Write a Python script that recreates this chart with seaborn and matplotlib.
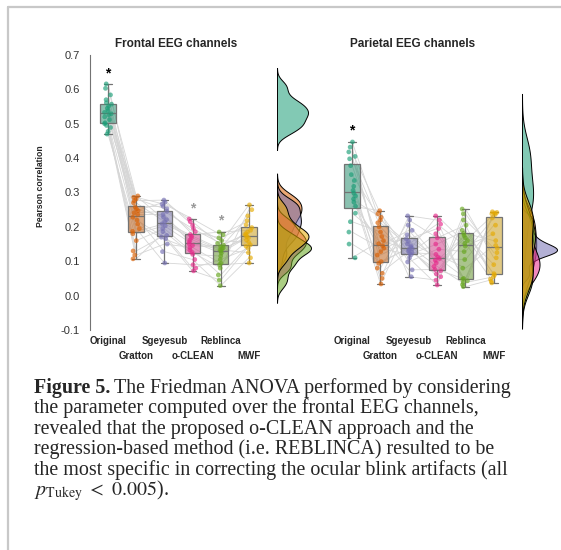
import numpy as np
import pandas as pd
import matplotlib
matplotlib.use("Agg")
import matplotlib.pyplot as plt
import seaborn as sns
from matplotlib.lines import Line2D

# ---------------------------------------------------------------- data
methods = ["Original", "Gratton", "Sgeyesub", "o-CLEAN", "Reblinca", "MWF"]
yticks = [-0.1, 0.0, 0.1, 0.2, 0.3, 0.4, 0.5, 0.6, 0.7]

# Pearson correlation per subject (20 subjects), frontal channels
fr_original = [0.545, 0.500, 0.584, 0.529, 0.470, 0.557, 0.520, 0.616, 0.489, 0.538,
               0.561, 0.503, 0.526, 0.603, 0.478, 0.551, 0.512, 0.570, 0.495, 0.533]
fr_gratton = [0.270, 0.130, 0.241, 0.208, 0.180, 0.286, 0.228, 0.252, 0.107, 0.276,
              0.236, 0.195, 0.258, 0.290, 0.160, 0.220, 0.247, 0.187, 0.118, 0.281]
fr_sgeyesub = [0.215, 0.175, 0.245, 0.165, 0.203, 0.266, 0.128, 0.228, 0.186, 0.278,
               0.236, 0.095, 0.260, 0.221, 0.195, 0.170, 0.272, 0.209, 0.150, 0.253]
fr_oclean = [0.173, 0.080, 0.195, 0.133, 0.150, 0.223, 0.105, 0.162, 0.120, 0.205,
             0.146, 0.090, 0.178, 0.156, 0.126, 0.072, 0.215, 0.168, 0.140, 0.186]
fr_reblinca = [0.136, 0.105, 0.152, 0.060, 0.143, 0.177, 0.029, 0.129, 0.115, 0.160,
               0.139, 0.090, 0.185, 0.124, 0.080, 0.045, 0.147, 0.133, 0.094, 0.168]
fr_mwf = [0.168, 0.138, 0.264, 0.148, 0.185, 0.218, 0.110, 0.176, 0.198, 0.155,
          0.232, 0.095, 0.190, 0.172, 0.250, 0.144, 0.180, 0.125, 0.162, 0.206]

# Pearson correlation per subject, parietal channels
pa_original = [0.378, 0.215, 0.432, 0.281, 0.306, 0.110, 0.405, 0.260, 0.335, 0.447,
               0.185, 0.298, 0.398, 0.272, 0.150, 0.418, 0.318, 0.240, 0.352, 0.290]
pa_gratton = [0.145, 0.185, 0.094, 0.228, 0.050, 0.160, 0.118, 0.247, 0.065, 0.212,
              0.138, 0.034, 0.200, 0.151, 0.099, 0.238, 0.080, 0.172, 0.220, 0.128]
pa_sgeyesub = [0.190, 0.122, 0.141, 0.098, 0.232, 0.134, 0.158, 0.055, 0.130, 0.145,
               0.119, 0.205, 0.110, 0.165, 0.137, 0.126, 0.220, 0.075, 0.150, 0.177]
pa_oclean = [0.095, 0.180, 0.055, 0.135, 0.220, 0.072, 0.112, 0.045, 0.232, 0.085,
             0.150, 0.108, 0.031, 0.195, 0.063, 0.120, 0.168, 0.076, 0.208, 0.103]
pa_reblinca = [0.168, 0.043, 0.220, 0.128, 0.026, 0.181, 0.050, 0.252, 0.152, 0.032,
               0.190, 0.105, 0.238, 0.038, 0.160, 0.080, 0.205, 0.047, 0.144, 0.175]
pa_mwf = [0.064, 0.242, 0.138, 0.226, 0.048, 0.160, 0.238, 0.110, 0.037, 0.244,
          0.060, 0.205, 0.125, 0.055, 0.236, 0.146, 0.042, 0.240, 0.180, 0.090]

# significance markers: (method, height, colour)
fr_stars = [("Original", 0.645, "black"), ("o-CLEAN", 0.255, "0.6"), ("Reblinca", 0.220, "0.6")]
pa_stars = [("Original", 0.480, "black")]

caption_lines = [
    "the parameter computed over the frontal EEG channels,",
    "revealed that the proposed o-CLEAN approach and the",
    "regression-based method (i.e. REBLINCA) resulted to be",
    "the most specific in correcting the ocular blink artifacts (all",
]


def long_form(columns):
    rows = []
    for m, vals in zip(methods, columns):
        for s, v in enumerate(vals):
            rows.append({"subject": s, "method": m, "pos": methods.index(m), "value": v})
    return pd.DataFrame(rows)


frontal = long_form([fr_original, fr_gratton, fr_sgeyesub, fr_oclean, fr_reblinca, fr_mwf])
parietal = long_form([pa_original, pa_gratton, pa_sgeyesub, pa_oclean, pa_reblinca, pa_mwf])

# ---------------------------------------------------------------- style
sns.set_style("white")
plt.rcParams["font.family"] = ["Liberation Sans", "DejaVu Sans"]
plt.rcParams["mathtext.fontset"] = "stix"
palette = dict(zip(methods, sns.color_palette("Dark2", 6)))

W, H = 561, 550
fig = plt.figure(figsize=(W / 100, H / 100), dpi=100)


def fx(px):
    return px / W


def fy(py):
    return 1 - py / H


ax_fr = fig.add_axes([fx(90), fy(330), fx(173), 275 / H])
kd_fr = fig.add_axes([fx(277), fy(330), fx(40), 275 / H])
ax_pa = fig.add_axes([fx(334), fy(330), fx(174), 275 / H])
kd_pa = fig.add_axes([fx(522), fy(330), fx(39), 275 / H])


def draw_panel(ax, kax, df, title, title_x, stars, show_y, bw, kde_px):
    sns.boxplot(data=df, x="method", y="value", order=methods, hue="method",
                hue_order=methods, palette=palette, width=0.55, showfliers=False,
                linecolor="0.45", linewidth=0.9, legend=False, ax=ax, zorder=2)
    for patch in ax.patches:
        fc = patch.get_facecolor()
        patch.set_facecolor((fc[0], fc[1], fc[2], 0.55))
    sns.lineplot(data=df, x="pos", y="value", units="subject", estimator=None,
                 color="#d6d6d6", linewidth=0.6, ax=ax, legend=False, zorder=1)
    sns.stripplot(data=df, x="method", y="value", order=methods, hue="method",
                  hue_order=methods, palette=palette, jitter=0.13, size=3.4,
                  alpha=0.65, linewidth=0, legend=False, ax=ax, zorder=3)
    for m, h, c in stars:
        ax.text(methods.index(m), h, "*", ha="center", va="center",
                fontsize=10, fontweight="bold", color=c, zorder=4)

    ax.set_xlim(-0.64, 5.5)
    ax.set_ylim(-0.1, 0.7)
    ax.set_xlabel("")
    ax.set_title(title, fontsize=8.5, fontweight="bold", pad=6, x=title_x)
    ax.set_xticks(range(len(methods)))
    ax.set_xticklabels(methods, fontsize=7, fontweight="bold")
    ax.tick_params(axis="x", length=0, pad=4)
    for i, t in enumerate(ax.xaxis.get_major_ticks()):
        if i % 2 == 1:
            t.set_pad(15)
    for sp in ["top", "right", "bottom"]:
        ax.spines[sp].set_visible(False)
    if show_y:
        ax.set_yticks(yticks)
        ax.set_yticklabels([f"{v:.1f}" for v in yticks])
        ax.tick_params(axis="y", length=4.3, width=0.8, color="0.45",
                       labelsize=8, labelcolor="0.2", pad=3)
        ax.spines["left"].set_color("0.45")
        ax.spines["left"].set_linewidth(0.8)
        ax.set_ylabel("Pearson correlation", fontsize=6.2, fontweight="bold")
        ax.yaxis.set_label_coords(-0.26, 0.524)
    else:
        ax.spines["left"].set_visible(False)
        ax.set_yticks([])
        ax.set_ylabel("")
    ax.patch.set_alpha(0)

    # marginal densities
    for m in methods:
        vals = df.loc[df["method"] == m, "value"]
        sns.kdeplot(y=vals, ax=kax, fill=True, color=palette[m], alpha=0.55,
                    edgecolor="black", linewidth=0.7, bw_adjust=bw[m])
    xmax = max(p.vertices[:, 0].max() for c in kax.collections for p in c.get_paths())
    width_px = kax.get_position().width * W
    kax.set_xlim(0, xmax * width_px / kde_px)
    kax.set_ylim(-0.1, 0.7)
    kax.axis("off")


draw_panel(ax_fr, kd_fr, frontal, "Frontal EEG channels", 0.5, fr_stars, True,
           {m: 0.7 for m in methods}, 34)
draw_panel(ax_pa, kd_pa, parietal, "Parietal EEG channels", 0.454, pa_stars, False,
           {"Original": 0.9, "Gratton": 1.0, "Sgeyesub": 0.45, "o-CLEAN": 0.9,
            "Reblinca": 1.0, "MWF": 1.0}, 35)

# ---------------------------------------------------------------- frame
frame_kw = dict(color="#c8c8c8", linewidth=1.6, transform=fig.transFigure)
fig.add_artist(Line2D([fx(8), 1], [fy(7), fy(7)], **frame_kw))
fig.add_artist(Line2D([fx(8), fx(8)], [fy(7), 0], **frame_kw))

# ---------------------------------------------------------------- caption
cap_size = 14.4
serif = ["Liberation Serif", "DejaVu Serif"]
baselines = [393 + 20.4 * i for i in range(6)]
head = fig.text(fx(34), fy(baselines[0]), "Figure 5.", fontsize=cap_size, fontweight="bold",
                family=serif, va="baseline", ha="left")
fig.canvas.draw()
bb = head.get_window_extent()
fig.text(bb.x1 / W + fx(4), fy(baselines[0]), "The Friedman ANOVA performed by considering",
         fontsize=cap_size, family=serif, va="baseline", ha="left")
for y, line in zip(baselines[1:5], caption_lines):
    fig.text(fx(34), fy(y), line, fontsize=cap_size, family=serif, va="baseline", ha="left")
fig.text(fx(34), fy(baselines[5]), r"$p_{\mathrm{Tukey}}\ <\ 0.005$).", fontsize=cap_size,
         family=serif, va="baseline", ha="left")

fig.savefig("out.png", dpi=100)
